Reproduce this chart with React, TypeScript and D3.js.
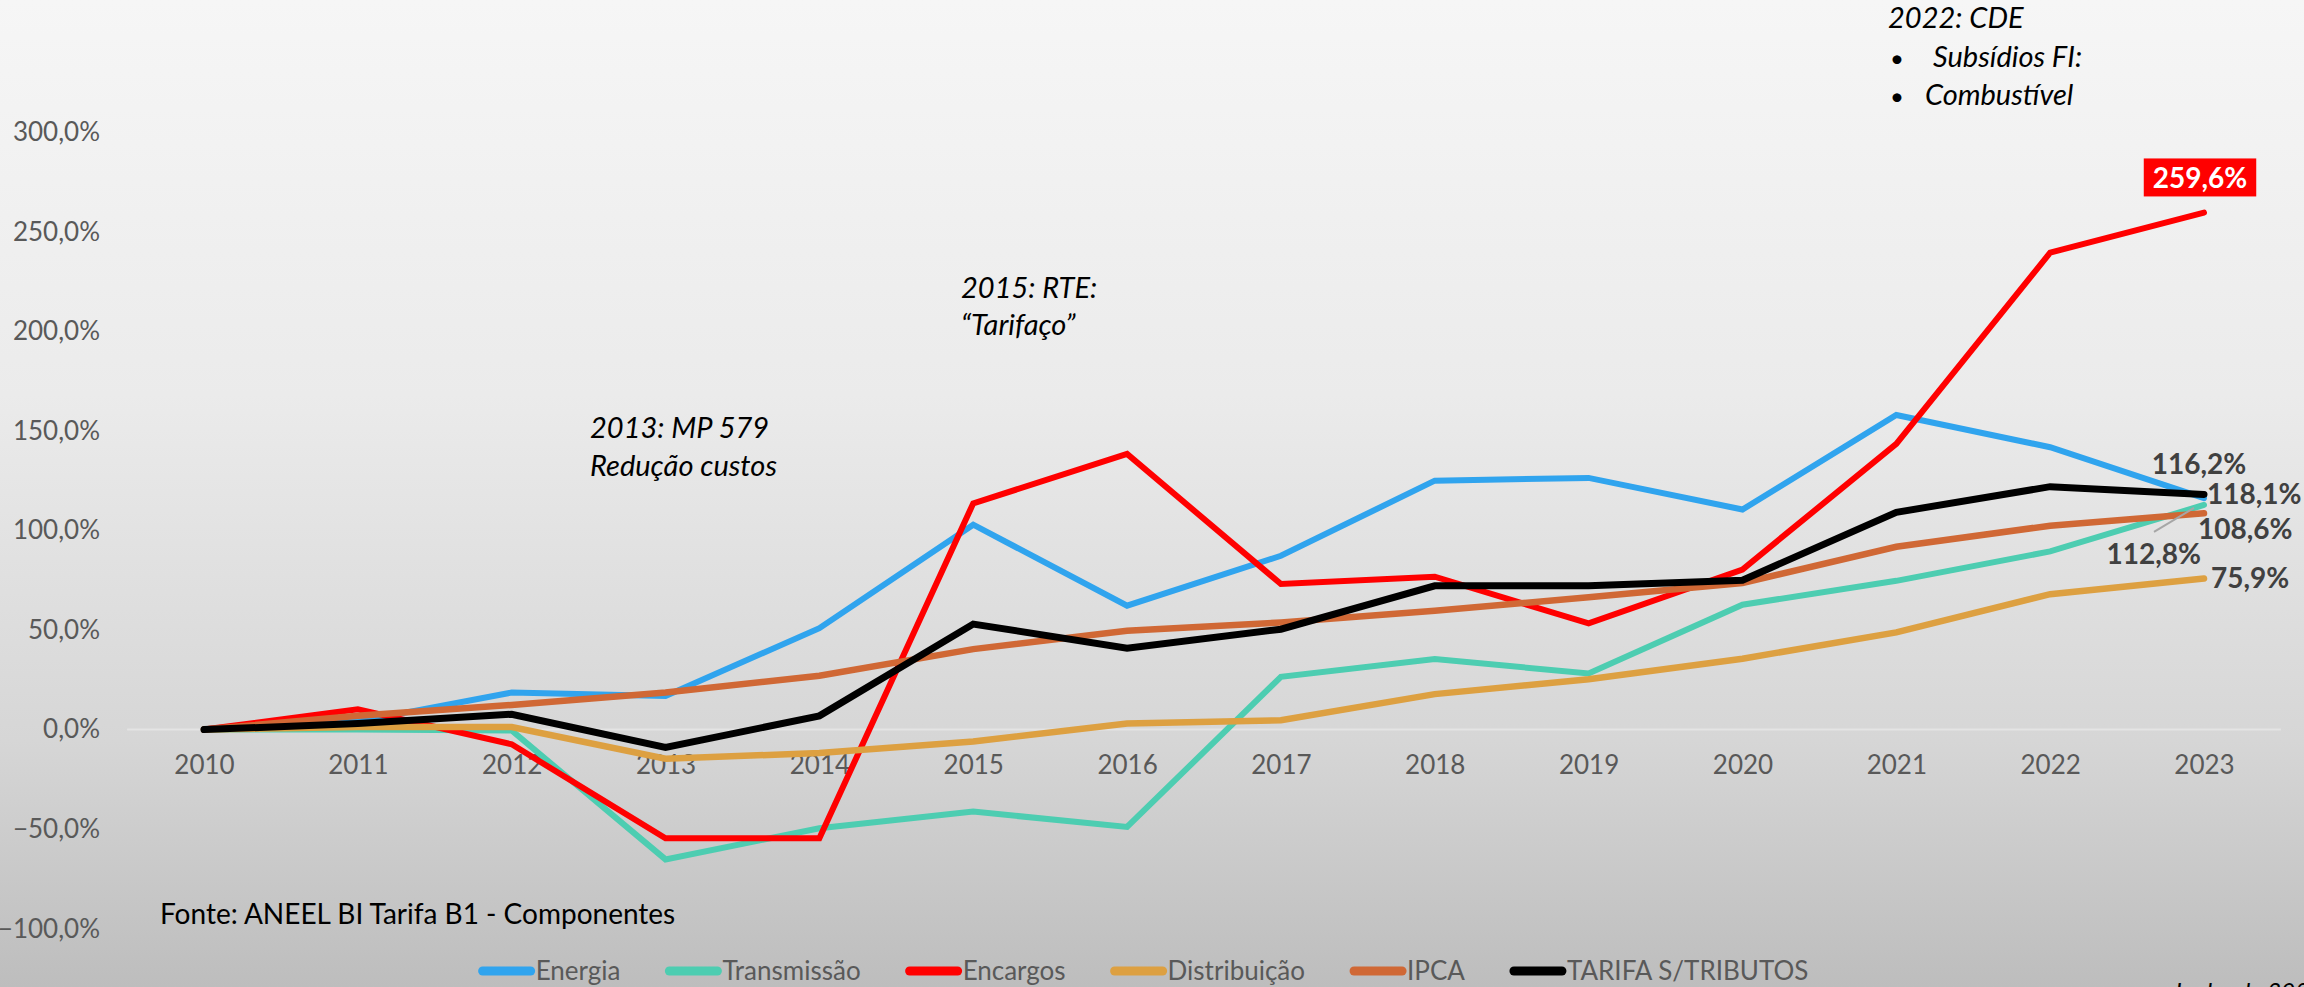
import React, { useRef, useEffect } from 'react';
import * as d3 from 'd3';

const years = ['2010', '2011', '2012', '2013', '2014', '2015', '2016', '2017', '2018', '2019', '2020', '2021', '2022', '2023'];
const energia = [0, 4, 18.6, 16.9, 50.9, 102.9, 62.2, 87.3, 125.0, 126.4, 110.5, 158.0, 141.8, 116.2];
const transmissao = [0, 0, -0.5, -65.2, -49.6, -41.2, -48.9, 26.5, 35.4, 28.2, 62.7, 74.7, 89.5, 112.8];
const encargos = [0, 10.2, -7.4, -54.6, -54.6, 113.6, 138.4, 73.1, 76.8, 53.3, 80.4, 143.5, 239.5, 259.6];
const distribuicao = [0, 1.3, 1.3, -14.6, -11.8, -6.0, 3.0, 4.7, 17.8, 25.3, 35.6, 48.8, 68.0, 75.9];
const ipca = [0, 6.9, 12.4, 18.6, 27.0, 40.4, 49.6, 53.8, 59.7, 66.4, 73.6, 91.8, 102.4, 108.6];
const tarifa = [0, 3.0, 7.7, -9.0, 6.9, 53.0, 40.9, 50.4, 72.2, 72.2, 75.0, 109.1, 122.0, 118.1];
const seriesNames = ['Energia', 'Transmissão', 'Encargos', 'Distribuição', 'IPCA', 'TARIFA S/TRIBUTOS'];
const yTicks = [-100, -50, 0, 50, 100, 150, 200, 250, 300];

const App = () => {
  const svgRef = useRef(null);

  useEffect(() => {
    const width = 2304;
    const height = 987;
    const font = 'Lato, "Open Sans", sans-serif';
    const svg = d3.select(svgRef.current).attr('width', width).attr('height', height);
    svg.selectAll('*').remove();

    const series = [
      { name: seriesNames[0], values: energia, color: '#30A4EE', w: 6 },
      { name: seriesNames[1], values: transmissao, color: '#4DCDB1', w: 6 },
      { name: seriesNames[2], values: encargos, color: '#FF0000', w: 6 },
      { name: seriesNames[3], values: distribuicao, color: '#DDA041', w: 6.5 },
      { name: seriesNames[4], values: ipca, color: '#D06835', w: 6.5 },
      { name: seriesNames[5], values: tarifa, color: '#000000', w: 7 },
    ];

    // background
    const defs = svg.append('defs');
    const grad = defs.append('linearGradient').attr('id', 'bg').attr('x1', 0).attr('y1', 0).attr('x2', 0).attr('y2', 1);
    grad.append('stop').attr('offset', '0%').attr('stop-color', '#f6f6f6');
    grad.append('stop').attr('offset', '40%').attr('stop-color', '#ebebeb');
    grad.append('stop').attr('offset', '75%').attr('stop-color', '#d6d6d6');
    grad.append('stop').attr('offset', '100%').attr('stop-color', '#bdbdbd');
    svg.append('rect').attr('width', width).attr('height', height).attr('fill', 'url(#bg)');

    const x = d3.scalePoint().domain(years).range([204, 2204]);
    const y = d3.scaleLinear().domain([-100, 300]).range([928.7, 132.2]);
    const half = x.step() / 2;
    const pct = (v) => d3.format('.1f')(v).replace('.', ',') + '%';

    // zero line
    svg.append('line')
      .attr('x1', x(years[0]) - half).attr('x2', x(years[years.length - 1]) + half)
      .attr('y1', y(0)).attr('y2', y(0))
      .attr('stroke', '#e4e4e4').attr('stroke-width', 2);

    // y axis
    const gy = svg.append('g').attr('transform', 'translate(100,0)')
      .call(d3.axisLeft(y).tickValues(yTicks).tickSize(0).tickPadding(0).tickFormat(pct));
    gy.select('.domain').remove();
    gy.selectAll('text').attr('font-family', font).attr('font-size', 26).attr('fill', '#595959');

    // x axis
    const gx = svg.append('g').attr('transform', `translate(0,${y(0)})`)
      .call(d3.axisBottom(x).tickSize(0).tickPadding(26));
    gx.select('.domain').remove();
    gx.selectAll('text').attr('font-family', font).attr('font-size', 26).attr('fill', '#595959');

    // lines
    const line = d3.line().x((d, i) => x(years[i])).y(d => y(d));
    series.forEach(s => {
      svg.append('path').datum(s.values)
        .attr('fill', 'none').attr('stroke', s.color).attr('stroke-width', s.w)
        .attr('stroke-linejoin', 'miter').attr('stroke-linecap', 'round')
        .attr('d', line);
    });

    // end labels
    const last = years[years.length - 1];
    const lx = x(last);
    const labelPlace = [
      { dx: -5, dy: -34, anchor: 'middle' },
      { dx: -3, dy: 49, anchor: 'end' },
      { dx: -4, dy: -34, anchor: 'middle' },
      { dx: 7, dy: 0, anchor: 'start' },
      { dx: -6, dy: 16, anchor: 'start' },
      { dx: 3, dy: 0, anchor: 'start' },
    ];
    series.forEach((s, i) => {
      const v = s.values[s.values.length - 1];
      const p = labelPlace[i];
      const t = svg.append('text')
        .attr('x', lx + p.dx).attr('y', y(v) + p.dy)
        .attr('dy', '0.35em').attr('text-anchor', p.anchor)
        .attr('font-family', font).attr('font-weight', 700).attr('font-size', 28)
        .attr('fill', s.name === 'Encargos' ? '#ffffff' : '#404040')
        .text(pct(v));
      if (s.name === 'Encargos') {
        const b = t.node().getBBox();
        svg.insert('rect', () => t.node())
          .attr('x', b.x - 9).attr('y', b.y - 2).attr('width', b.width + 18).attr('height', b.height + 4)
          .attr('fill', '#FF0000');
      }
      if (s.name === 'Transmissão') {
        svg.append('line')
          .attr('x1', lx - 50).attr('y1', y(v) + 27)
          .attr('x2', lx - 10).attr('y2', y(v) + 3)
          .attr('stroke', '#a6a6a6').attr('stroke-width', 2);
      }
    });

    // annotations
    const note = (lines, x0, y0, gap) => {
      lines.forEach((l, i) => {
        svg.append('text').attr('x', x0).attr('y', y0 + i * gap)
          .attr('font-family', font).attr('font-style', 'italic').attr('font-size', 29)
          .attr('fill', '#000').text(l);
      });
    };
    note(['2013: MP 579', 'Redução custos'], 590, 438, 38);
    note(['2015: RTE:', '“Tarifaço”'], 961, 298, 37);
    note(['2022: CDE'], 1888, 28, 38);
    svg.append('text').attr('x', 1890).attr('y', 67).attr('font-family', font).attr('font-size', 24).text('•');
    svg.append('text').attr('x', 1890).attr('y', 105).attr('font-family', font).attr('font-size', 24).text('•');
    note(['Subsídios FI:'], 1933, 67, 38);
    note(['Combustível'], 1925, 105, 38);

    svg.append('text').attr('x', 160).attr('y', 924)
      .attr('font-family', font).attr('font-size', 28).attr('fill', '#000')
      .text('Fonte: ANEEL BI Tarifa B1 - Componentes');

    svg.append('text').attr('x', 2172).attr('y', 1000)
      .attr('font-family', font).attr('font-style', 'italic').attr('font-size', 24).attr('fill', '#000')
      .text('Junho de 2023');

    // legend
    const legend = svg.append('g');
    let cx = 0;
    series.forEach(s => {
      const g = legend.append('g').attr('transform', `translate(${cx},0)`);
      g.append('line').attr('x1', 4).attr('x2', 52).attr('y1', 0).attr('y2', 0)
        .attr('stroke', s.color).attr('stroke-width', 9).attr('stroke-linecap', 'round');
      const t = g.append('text').attr('x', 57).attr('y', 0).attr('dy', '0.35em')
        .attr('font-family', font).attr('font-size', 26).attr('fill', '#595959').text(s.name);
      cx += 57 + t.node().getComputedTextLength() + 45;
    });
    const total = cx - 45;
    legend.attr('transform', `translate(${1143.5 - total / 2},971)`);
  }, []);

  return (
    <svg ref={svgRef} style={{ position: 'fixed', left: 0, top: 0 }}></svg>
  );
};

export default App;
